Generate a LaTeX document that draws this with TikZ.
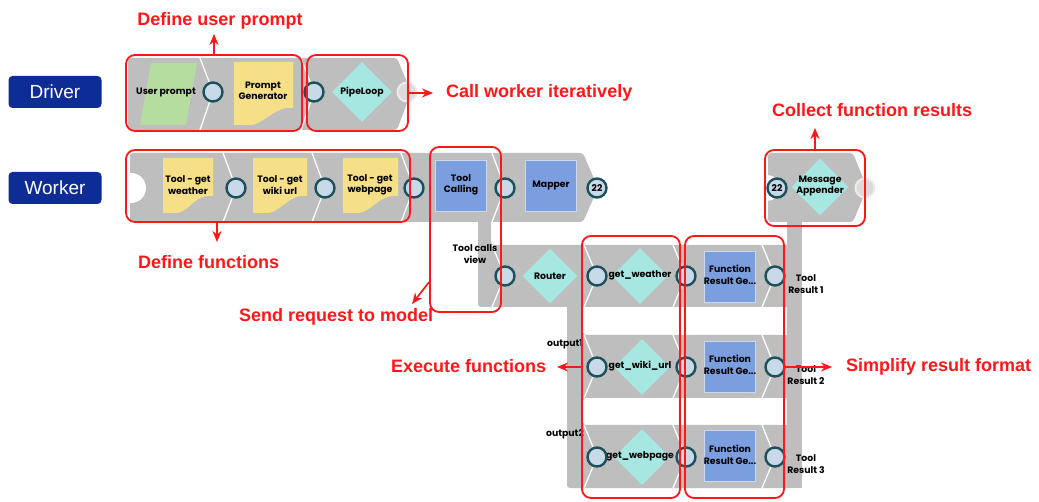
\documentclass[tikz,border=0pt]{standalone}
\usepackage{fontspec}
\setmainfont{Liberation Sans}
\newfontfamily\snapfont{Poppins}
\usetikzlibrary{shapes.geometric, arrows.meta, positioning, calc}

\definecolor{band}{RGB}{190,190,190}
\definecolor{portline}{RGB}{28,80,90}
\definecolor{portfill}{RGB}{200,217,232}
\definecolor{leafgreen}{RGB}{182,221,160}
\definecolor{docyellow}{RGB}{246,224,135}
\definecolor{blockblue}{RGB}{122,158,222}
\definecolor{diacyan}{RGB}{166,232,225}
\definecolor{navy}{RGB}{14,44,150}
\definecolor{alertred}{RGB}{255,22,22}

\newcommand{\snapsize}{\snapfont\bfseries\fontsize{9.3}{11.5}\selectfont}
% yellow page with a curled lower edge
\newcommand{\docpage}[4]{%
  \fill[docyellow] (#1,#2) -- (#3,#2) -- (#3,{#4-17})
    .. controls ({#3-18},{#4-19}) and ({#1+0.55*(#3-#1)},{#4-3}) .. ({#1+0.3*(#3-#1)},#4)
    -- (#1,#4) -- cycle;}
% white seam between two snaps
\newcommand{\seam}[4]{\draw[seam] ({#1-13},#3) -- (#1,#2) -- ({#1-13},#4);}

\begin{document}
\begin{tikzpicture}[x=1pt, y=-1pt, >=Stealth,
  seam/.style={draw=white, line width=1.3pt},
  callout/.style={draw=alertred, line width=1.7pt, -{Stealth[length=11pt, width=9pt]}}]
    % Define styles for tags, snaps, ports and red groups
    \tikzstyle{lane} = [fill=navy, text=white, rounded corners=4pt, minimum width=93, minimum height=32, font=\fontsize{19}{19}\selectfont]
    \tikzstyle{port} = [circle, draw=portline, line width=2.4pt, fill=portfill, minimum size=19pt, inner sep=0pt, font=\snapsize]
    \tikzstyle{idle} = [circle, draw=white!85!gray, line width=2pt, fill=band!55!white, minimum size=19pt, inner sep=0pt]
    \tikzstyle{block} = [rectangle, fill=blockblue, draw=white!60!blockblue, line width=0.8pt, minimum size=51, inner sep=0pt]
    \tikzstyle{gate} = [diamond, aspect=1, fill=diacyan, minimum width=56, minimum height=56, inner sep=0pt]
    \tikzstyle{snaptext} = [font=\snapsize, align=center, inner sep=0pt]
    \tikzstyle{group} = [rectangle, draw=alertred, line width=1.8pt, rounded corners=9pt, inner sep=0pt]
    \tikzstyle{redtxt} = [text=alertred, font=\bfseries\fontsize{18}{18}\selectfont, inner sep=1pt]

    \useasboundingbox (0,0) rectangle (1039,502);

    % Pipeline tags
    \node [lane] (tagDriver) at (55,92) {Driver};
    \node [lane] (tagWorker) at (55,188) {Worker};

    % Grey snap bands
    \fill[band, rounded corners=3pt] (128,58) -- (397,58) -- (411,92) -- (397,130) -- (128,130) -- cycle;
    \fill[band, rounded corners=3pt] (130,153) -- (583,153) -- (598,188) -- (583,222) -- (130,222) -- cycle;
    \fill[white] (131,188) circle (15);
    \fill[band, rounded corners=3pt] (478,215) -- (491,215) -- (491,245) -- (789,245) -- (789,307) -- (478,307) -- cycle;
    \fill[band, rounded corners=3pt] (567,300) -- (583,300) -- (583,335) -- (789,335) -- (789,398) -- (583,398)
        -- (583,425) -- (789,425) -- (789,488) -- (567,488) -- cycle;
    \fill[band] (787,215) rectangle (802,488);
    \fill[band, rounded corners=3pt] (768,153) -- (853,153) -- (867,188) -- (853,222) -- (768,222) -- cycle;
    \fill[white] (767,188) circle (13);

    % Seams
    \seam{213}{92}{58}{130}
    \seam{314}{92}{58}{130}
    \foreach \cx in {236,325,414,505} {\seam{\cx}{188}{153}{222}}
    \foreach \cx in {505,597,686,775} {\seam{\cx}{276}{245}{307}}
    \foreach \cx in {597,686,775} {\seam{\cx}{367}{335}{398}}
    \foreach \cx in {597,686,775} {\seam{\cx}{457}{425}{488}}

    % Snap icons
    \fill[leafgreen] (151,63) -- (197,63) -- (186,125) -- (140,125) -- cycle;
    \docpage{234}{62}{293}{125}
    \docpage{163}{158}{213}{213}
    \docpage{253}{158}{307}{213}
    \docpage{343}{158}{398}{213}
    \node [gate, minimum width=60, minimum height=60] (dLoop) at (362,92) {};
    \node [block] (bCall) at (461,186) {};
    \node [block] (bMap) at (551,186) {};
    \node [gate, minimum width=55, minimum height=55] (dRoute) at (550,276) {};
    \node [gate] (dWeather) at (640,276) {};
    \node [gate] (dWiki) at (642,367) {};
    \node [gate] (dPage) at (642,457) {};
    \node [block] (bFr1) at (730,277) {};
    \node [block] (bFr2) at (730,367) {};
    \node [block] (bFr3) at (730,456) {};
    \node [gate, minimum width=57, minimum height=57] (dAppend) at (820,187) {};

    % Snap texts
    \node [snaptext] (tUser) at (166,92) {User prompt};
    \node [snaptext] (tGen) at (263,91) {Prompt\\Generator};
    \node [snaptext] (tLoop) at (362,92) {PipeLoop};
    \node [snaptext] (tW1) at (188,185) {Tool - get\\weather};
    \node [snaptext] (tW2) at (280,185) {Tool - get\\wiki url};
    \node [snaptext] (tW3) at (370,185) {Tool - get\\webpage};
    \node [snaptext] (tCall) at (461,185) {Tool\\Calling};
    \node [snaptext] (tMap) at (551,185) {Mapper};
    \node [snaptext] (tView) at (475,254) {Tool calls\\view};
    \node [snaptext] (tRoute) at (550,276) {Router};
    \node [snaptext] (tWeather) at (640,275) {get\_weather};
    \node [snaptext] (tWiki) at (640,366) {get\_wiki\_url};
    \node [snaptext] (tPage) at (640,456) {get\_webpage};
    \node [snaptext] (tFr1) at (730,275) {Function\\Result Ge...};
    \node [snaptext] (tFr2) at (730,365) {Function\\Result Ge...};
    \node [snaptext] (tFr3) at (730,455) {Function\\Result Ge...};
    \node [snaptext] (tRes1) at (806,284) {Tool\\Result 1};
    \node [snaptext] (tRes2) at (806,375) {Tool\\Result 2};
    \node [snaptext] (tRes3) at (806,464) {Tool\\Result 3};
    \node [snaptext] (tOut1) at (565,344) {output1};
    \node [snaptext] (tOut2) at (565,434) {output2};
    \node [snaptext] (tAppend) at (820,186) {Message\\Appender};

    % Ports
    \node [port] (pUser) at (213,92) {};
    \node [port] (pGen) at (314,92) {};
    \node [idle] (pLoopOut) at (407,92) {};
    \node [port] (pW1) at (236,188) {};
    \node [port] (pW2) at (325,188) {};
    \node [port] (pW3) at (414,188) {};
    \node [port] (pCall) at (505,188) {};
    \node [port] (pMap) at (597,188) {22};
    \node [port] (pRoute) at (505,276) {};
    \node [port] (pWeather) at (597,276) {};
    \node [port] (pFr1) at (686,276) {};
    \node [port] (pRes1) at (775,276) {};
    \node [port] (pWiki) at (597,367) {};
    \node [port] (pFr2) at (686,367) {};
    \node [port] (pRes2) at (775,367) {};
    \node [port] (pPage) at (597,457) {};
    \node [port] (pFr3) at (686,457) {};
    \node [port] (pRes3) at (775,457) {};
    \node [port] (pCollect) at (777,188) {22};
    \node [idle] (pDone) at (865,188) {};

    % Red groups
    \node [group, minimum width=176, minimum height=76] (grpPrompt) at (214,93) {};
    \node [group, minimum width=101, minimum height=76] (grpLoop) at (357.5,93) {};
    \node [group, minimum width=284, minimum height=72] (grpFuncs) at (268,186) {};
    \node [group, minimum width=71, minimum height=165] (grpCall) at (465.5,229.5) {};
    \node [group, minimum width=100, minimum height=76] (grpCollect) at (815,188) {};
    \node [group, minimum width=98, minimum height=262] (grpRun) at (631,367) {};
    \node [group, minimum width=99, minimum height=262] (grpFmt) at (734.5,367) {};

    % Red notes
    \node [redtxt, anchor=base] (lblPrompt) at (220,26) {Define user prompt};
    \node [redtxt, anchor=base west] (lblLoop) at (445,98) {Call worker iteratively};
    \node [redtxt, anchor=base west] (lblFuncs) at (137,269) {Define functions};
    \node [redtxt, anchor=base west] (lblSend) at (238,322) {Send request to model};
    \node [redtxt, anchor=base west] (lblRun) at (390,373) {Execute functions};
    \node [redtxt, anchor=base west] (lblFmt) at (845,372) {Simplify result format};
    \node [redtxt, anchor=base west] (lblCollect) at (771,117) {Collect function results};

    % Arrows from groups to notes
    \coordinate (tipPrompt) at (214,34);
    \coordinate (tipLoop) at (433,93);
    \coordinate (tipFuncs) at (217,242);
    \coordinate (tipSend) at (412,304);
    \coordinate (tipRun) at (557,367);
    \coordinate (tipFmt) at (832,367);
    \coordinate (tipCollect) at (815,128);
    \draw[callout] (grpPrompt.north) -- (tipPrompt);
    \draw[callout] (grpLoop.east) -- (tipLoop);
    \draw[callout] (grpFuncs.south -| tipFuncs) -- (tipFuncs);
    \draw[callout] ($(grpCall.west)!0.63!(grpCall.south west)$) -- (tipSend);
    \draw[callout] (grpRun.west) -- (tipRun);
    \draw[callout] (grpFmt.east) -- (tipFmt);
    \draw[callout] (grpCollect.north) -- (tipCollect);
\end{tikzpicture}
\end{document}
